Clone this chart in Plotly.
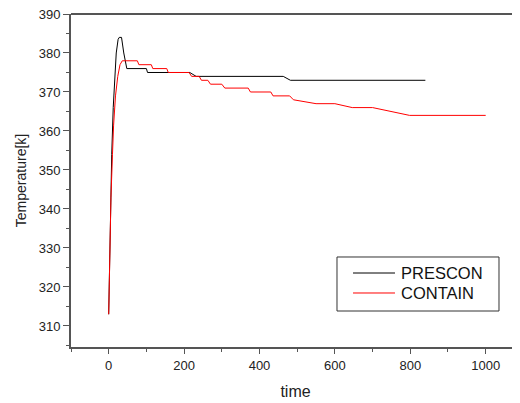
import plotly.graph_objects as go

# PRESCON (black)
prescon_t = [0, 3, 6, 8, 12, 16, 20, 25, 28, 34, 40, 48, 100, 103, 215, 232, 463, 482, 840]
prescon_T = [313, 330, 347, 354, 366, 374, 380, 383.5, 384, 384, 380, 376, 376, 375, 375, 374, 374, 373, 373]

# CONTAIN (red)
contain_t = [0, 3, 6, 10, 13, 18, 24, 30, 36, 76, 80, 113, 117, 154, 158, 213, 220, 240, 246, 263,
             270, 300, 308, 370, 376, 430, 436, 480, 490, 550, 600, 646, 700, 798, 1000]
contain_T = [313, 330, 343, 354, 361.5, 369, 374, 377, 378, 378, 377, 377, 376, 376, 375, 375, 374, 374, 373, 373,
             372, 372, 371, 371, 370, 370, 369, 369, 368, 367, 367, 366, 366, 364, 364]

series_names = ["PRESCON", "CONTAIN"]
series_colors = ["#000000", "#ff0000"]

x_ticks = [0, 200, 400, 600, 800, 1000]
y_ticks = [310, 320, 330, 340, 350, 360, 370, 380, 390]

FONT = "Liberation Sans, Arial, sans-serif"
AX = "#555555"

fig = go.Figure()
fig.add_trace(go.Scatter(x=prescon_t, y=prescon_T, mode="lines", name=series_names[0],
                         line=dict(color=series_colors[0], width=1)))
fig.add_trace(go.Scatter(x=contain_t, y=contain_T, mode="lines", name=series_names[1],
                         line=dict(color=series_colors[1], width=1)))

# legend drawn as a boxed key (paper coordinates)
shapes = [dict(type="line", xref="paper", yref="paper", x0=0, x1=1, y0=1, y1=1,
               line=dict(color=AX, width=2)),
          dict(type="rect", xref="paper", yref="paper", x0=0.5924, x1=0.9532, y0=0.1081, y1=0.2703,
               line=dict(color="#333333", width=1), fillcolor="white", layer="above")]
annotations = []
key_y = [0.2222, 0.1622]
for name, color, ky in zip(series_names, series_colors, key_y):
    shapes.append(dict(type="line", xref="paper", yref="paper", x0=0.6281, x1=0.7216, y0=ky, y1=ky,
                       line=dict(color=color, width=1), layer="above"))
    annotations.append(dict(text=name, xref="paper", yref="paper", x=0.7305, y=ky,
                            xanchor="left", yanchor="middle", showarrow=False,
                            font=dict(size=16.5, family=FONT, color="#111111")))

# page body has an 8px default margin, so the figure is 8px smaller
fig.update_layout(
    width=512, height=395,
    margin=dict(l=63, r=0, t=6, b=56, autoexpand=False),
    paper_bgcolor="white", plot_bgcolor="white",
    font=dict(family=FONT, color="#222222", size=12),
    showlegend=False,
    xaxis=dict(range=[-100, 1091], tickvals=x_ticks, ticks="outside", ticklen=5,
               tickwidth=1, tickcolor=AX, showline=True, linecolor=AX, linewidth=2,
               showgrid=False, zeroline=False, automargin=False, ticklabeloverflow="allow",
               minor=dict(dtick=100, tick0=0, ticks="outside", ticklen=3, tickcolor=AX, showgrid=False),
               title=dict(text="time", font=dict(size=16), standoff=14),
               tickfont=dict(size=13)),
    yaxis=dict(range=[304.6, 390], tickvals=y_ticks, ticks="outside", ticklen=6,
               tickwidth=1, tickcolor=AX, showline=True, linecolor=AX, linewidth=2,
               showgrid=False, zeroline=False, automargin=False, ticklabeloverflow="allow",
               minor=dict(dtick=5, tick0=305, ticks="outside", ticklen=3, tickcolor=AX, showgrid=False),
               title=dict(text="Temperature[k]", font=dict(size=14), standoff=9),
               tickfont=dict(size=13)),
    shapes=shapes,
    annotations=annotations,
)

fig.write_html("out.html")
